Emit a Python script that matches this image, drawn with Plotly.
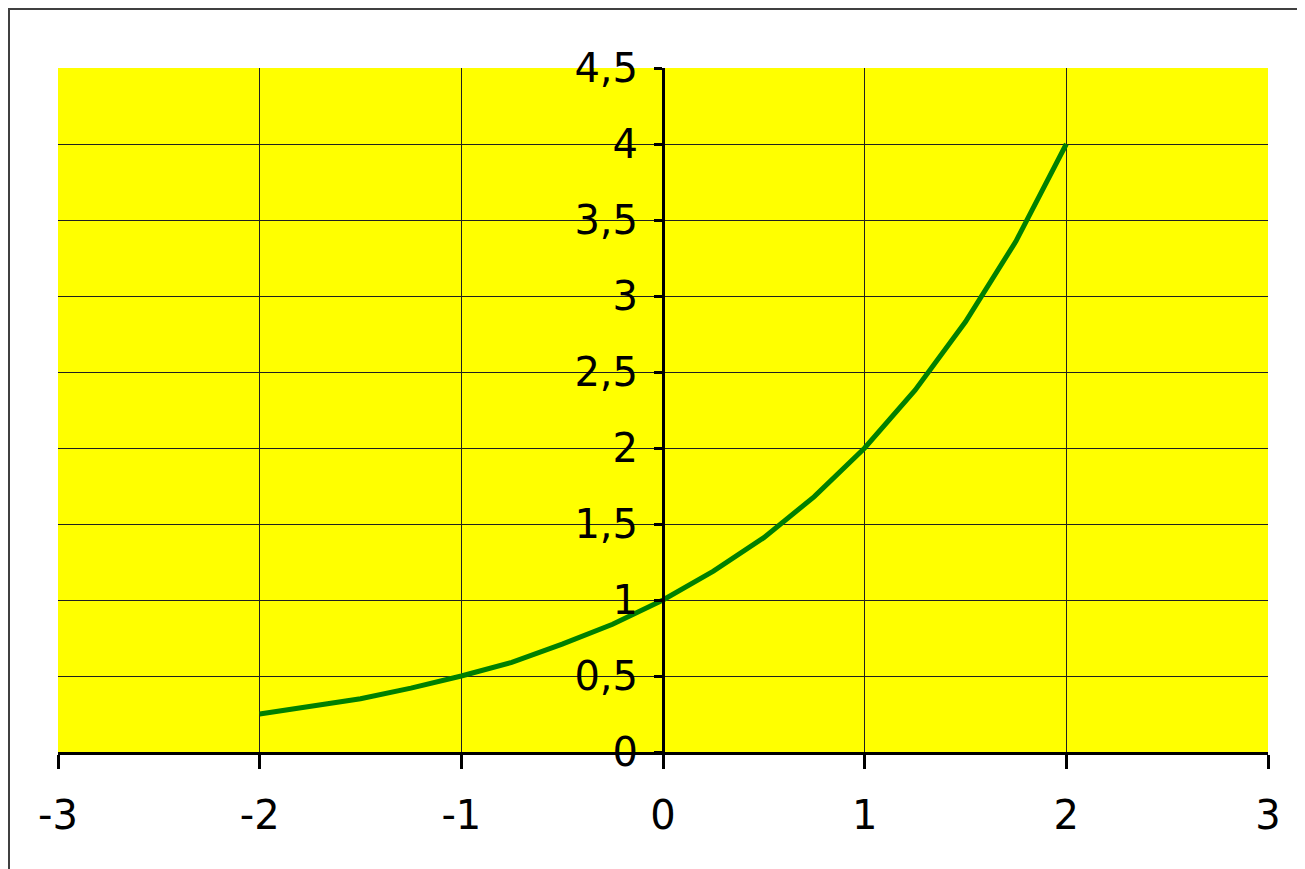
import plotly.graph_objects as go

# curve points
x_vals = [-2, -1.75, -1.5, -1.25, -1, -0.75, -0.5, -0.25, 0, 0.25, 0.5, 0.75, 1, 1.25, 1.5, 1.75, 2]
y_vals = [0.25, 0.30, 0.35, 0.42, 0.5, 0.59, 0.71, 0.84, 1.0, 1.19, 1.41, 1.68, 2.0, 2.38, 2.83, 3.36, 4.0]

x_ticks = [-3, -2, -1, 0, 1, 2, 3]
x_labels = ['-3', '-2', '-1', '0', '1', '2', '3']
y_ticks = [0, 0.5, 1, 1.5, 2, 2.5, 3, 3.5, 4, 4.5]

# the page puts the figure 8px in from the top-left corner
W, H = 1297, 861
L, R, T, B = 50, 37, 60, 117
pw, ph = W - L - R, H - T - B


def px(x):
    return (x - L) / pw


def py(y):
    return (H - B - y) / ph


fig = go.Figure()
fig.add_trace(go.Scatter(x=x_vals, y=y_vals, mode='lines',
                         line=dict(color='#008000', width=5), showlegend=False))

# dark frame edge on the left and top
fig.add_shape(type='line', xref='paper', yref='paper', x0=px(1), x1=px(1), y0=py(0), y1=py(H),
              line=dict(color='#404040', width=2))
fig.add_shape(type='line', xref='paper', yref='paper', x0=px(0), x1=px(W), y0=py(1), y1=py(1),
              line=dict(color='#404040', width=2))

fig.update_layout(
    width=W,
    height=H,
    margin=dict(l=L, r=R, t=T, b=B, pad=0),
    paper_bgcolor='white',
    plot_bgcolor='#ffff00',
    separators=',.',
    font=dict(family='DejaVu Sans', size=40, color='black'),
    xaxis=dict(
        range=[-3, 3], tickvals=x_ticks, ticktext=x_labels,
        showgrid=True, gridcolor='#202020', gridwidth=1,
        zeroline=False, showline=True, linecolor='black', linewidth=3,
        ticks='outside', ticklen=14, tickwidth=3, tickcolor='black',
        ticklabelstandoff=12,
    ),
    yaxis=dict(
        range=[0, 4.5], tickvals=y_ticks, showgrid=True, gridcolor='#202020', gridwidth=1,
        zeroline=False, showline=True, linecolor='black', linewidth=3,
        anchor='free', position=0.5,
        ticks='outside', ticklen=8, tickwidth=3, tickcolor='black',
        ticklabelstandoff=8,
    ),
)

fig.write_html('out.html')
